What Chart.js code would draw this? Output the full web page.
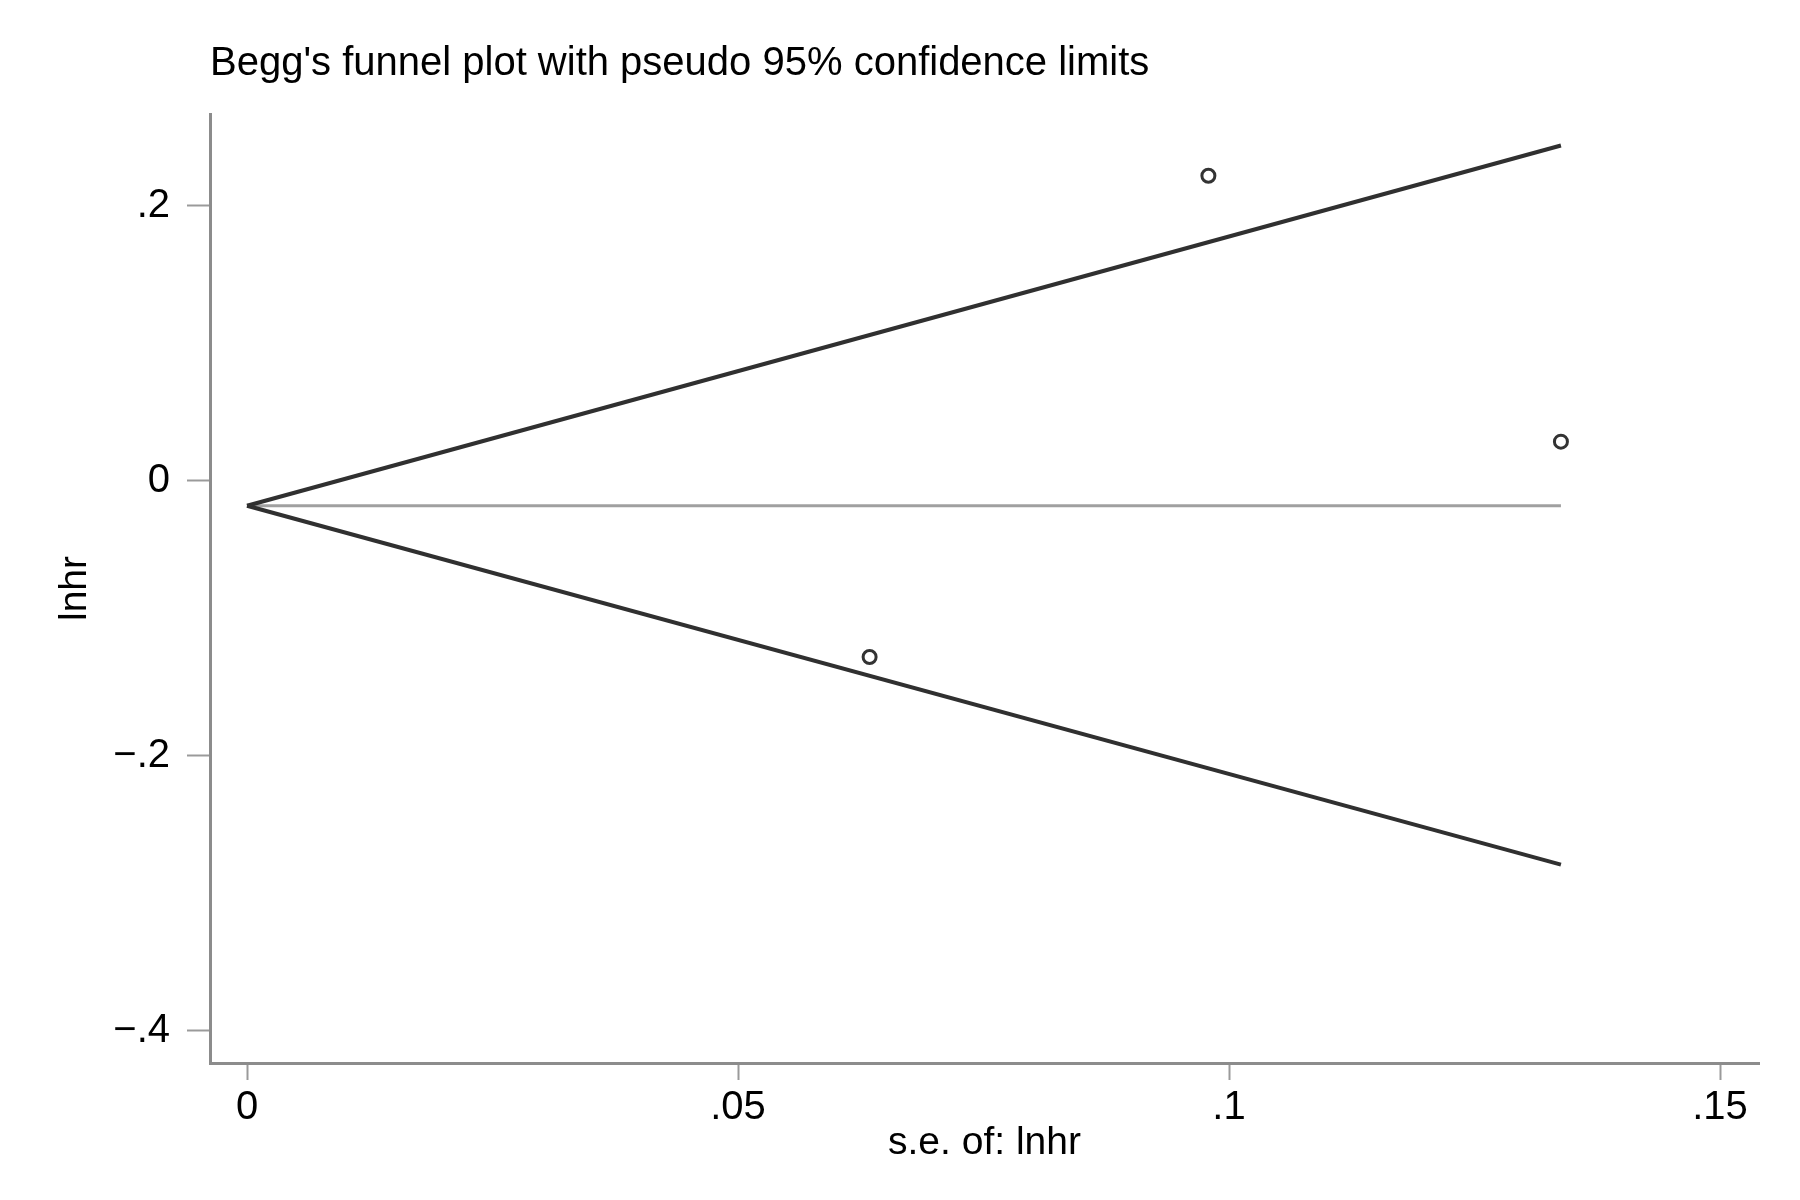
<!DOCTYPE html>
<html>
<head>
<meta charset="utf-8">
<script src="https://cdn.jsdelivr.net/npm/chart.js@4"></script>
<style>
  html, body { margin: 0; padding: 0; background: #ffffff; }
  #wrap { width: 1800px; height: 1200px; }
</style>
</head>
<body>
<div id="wrap"><canvas id="c" width="1800" height="1200"></canvas></div>
<script>
// ---- data ----
const studySe = [0.0634, 0.0979, 0.1338];        // s.e. of lnhr for each study
const studyLnhr = [-0.128, 0.222, 0.0286];       // lnhr for each study
const limitSe = [0, 0.1338];                     // ends of the pseudo-CI lines
const upperLimit = [-0.018, 0.244];
const lowerLimit = [-0.018, -0.279];
const pooledLine = [-0.018, -0.018];
const xTickValues = [0, 0.05, 0.1, 0.15];
const xTickLabels = ['0', '.05', '.1', '.15'];
const yTickValues = [-0.4, -0.2, 0, 0.2];
const yTickLabels = ['\u2212.4', '\u2212.2', '0', '.2'];
const titleText = "Begg's funnel plot with pseudo 95% confidence limits";
const xTitle = 's.e. of: lnhr';
const yTitle = 'lnhr';

const pts = (xs, ys) => xs.map((x, i) => ({x: x, y: ys[i]}));
const FONT = 'Liberation Sans, Arial, Helvetica, sans-serif';

new Chart(document.getElementById('c'), {
  type: 'scatter',
  data: {
    datasets: [
      {
        label: 'studies',
        data: pts(studySe, studyLnhr),
        showLine: false,
        pointStyle: 'circle',
        pointRadius: 6.5,
        pointBorderWidth: 3,
        pointBorderColor: '#333333',
        pointBackgroundColor: 'rgba(255,255,255,0)'
      },
      {
        label: 'upper',
        data: pts(limitSe, upperLimit),
        showLine: true,
        borderColor: '#303030',
        borderWidth: 4,
        pointRadius: 0
      },
      {
        label: 'lower',
        data: pts(limitSe, lowerLimit),
        showLine: true,
        borderColor: '#303030',
        borderWidth: 4,
        pointRadius: 0
      },
      {
        label: 'pooled',
        data: pts(limitSe, pooledLine),
        showLine: true,
        borderColor: '#a0a0a0',
        borderWidth: 3,
        pointRadius: 0
      }
    ]
  },
  options: {
    responsive: false,
    animation: false,
    devicePixelRatio: 1,
    layout: { padding: { left: 0, right: 41, top: 0, bottom: 0 } },
    plugins: {
      legend: { display: false },
      tooltip: { enabled: false },
      title: {
        display: true,
        text: titleText,
        align: 'start',
        fullSize: false,
        color: '#000000',
        font: { family: FONT, size: 40, weight: 'normal', lineHeight: 1.2 },
        padding: { top: 40, bottom: 26 }
      }
    },
    scales: {
      x: {
        type: 'linear',
        min: -0.00377,
        max: 0.15397,
        afterBuildTicks: (s) => { s.ticks = xTickValues.map(v => ({value: v})); },
        afterFit: (s) => { s.height = 137; },
        ticks: {
          color: '#000000',
          font: { family: FONT, size: 40 },
          padding: 4,
          maxRotation: 0,
          autoSkip: false,
          callback: (v) => { const i = xTickValues.indexOf(v); return i >= 0 ? xTickLabels[i] : ''; }
        },
        grid: {
          drawOnChartArea: false,
          drawTicks: true,
          tickLength: 17,
          tickWidth: 2,
          tickColor: '#9a9a9a'
        },
        border: { display: true, color: '#8c8c8c', width: 3 },
        title: {
          display: true,
          text: xTitle,
          color: '#000000',
          font: { family: FONT, size: 39, lineHeight: 1.2 },
          padding: { top: 0, bottom: 33 }
        }
      },
      y: {
        type: 'linear',
        min: -0.4233,
        max: 0.2669,
        afterBuildTicks: (s) => { s.ticks = yTickValues.map(v => ({value: v})); },
        afterFit: (s) => { s.width = 210; },
        ticks: {
          color: '#000000',
          font: { family: FONT, size: 40 },
          padding: 17,
          autoSkip: false,
          callback: (v) => { const i = yTickValues.indexOf(v); return i >= 0 ? yTickLabels[i] : ''; }
        },
        grid: {
          drawOnChartArea: false,
          drawTicks: true,
          tickLength: 23,
          tickWidth: 2,
          tickColor: '#9a9a9a'
        },
        border: { display: true, color: '#8c8c8c', width: 3 },
        title: {
          display: true,
          text: yTitle,
          color: '#000000',
          font: { family: FONT, size: 39, lineHeight: 1.2 },
          padding: { top: 52, bottom: 0 }
        }
      }
    }
  }
});
</script>
</body>
</html>
